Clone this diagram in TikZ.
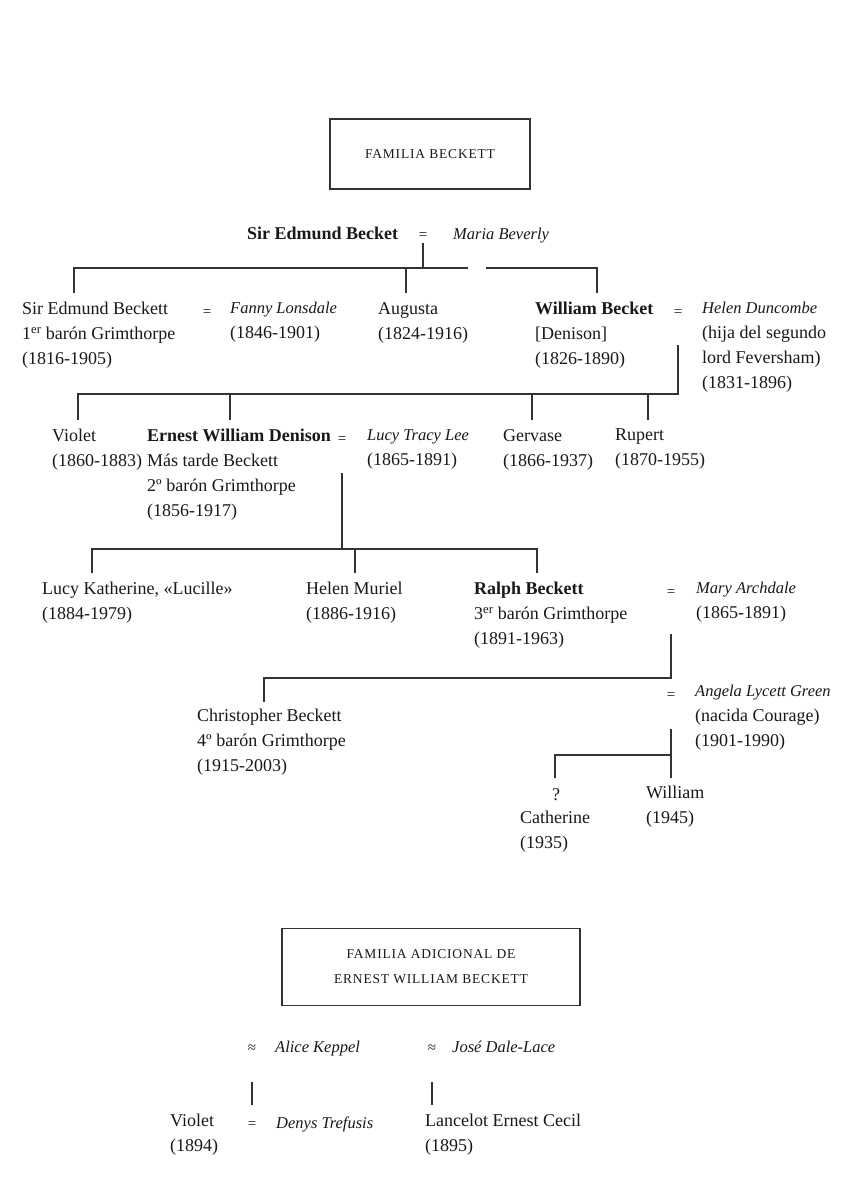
\documentclass[tikz,border=0pt]{standalone}
\usepackage{fontspec}
\setmainfont{Liberation Serif}
\newcommand{\spname}[1]{{\fontsize{16.5}{25}\selectfont\itshape #1}}

\begin{document}
\begin{tikzpicture}[x=1pt,y=-1pt,
  every node/.style={inner sep=0pt,text=black!90,font=\fontsize{18}{25}\selectfont},
  person/.style={anchor=north west,yshift=14pt,align=left,execute at begin node={\rule{0pt}{14pt}}},
  eq/.style={anchor=base,font=\fontsize{15}{25}\selectfont},
  titlebox/.style={draw=black!80,line width=1.2pt,align=center,
    font=\fontsize{13.5}{25}\selectfont\addfontfeature{LetterSpace=6}},
  kin/.style={draw=black!80,line width=1.1pt}]
\fill[white] (0,0) rectangle (842,1202);
\useasboundingbox (0,0) rectangle (842,1202);

\node[titlebox,minimum width=200pt,minimum height=70pt] (fam) at (430,154) {FAMILIA BECKETT};

\node[person,font=\fontsize{18}{25}\selectfont\bfseries] (edmundsr) at (247,239) {Sir Edmund Becket};
\node[eq] (eq0) at (423,239) {=};
\node[person] (maria) at (453,239) {\spname{Maria Beverly}};

\node[person] (edmund) at (22,316) {Sir Edmund Beckett\\1\textsuperscript{er} barón Grimthorpe\\(1816-1905)};
\node[eq] (eq1) at (207,316) {=};
\node[person] (fanny) at (230,316) {\spname{Fanny Lonsdale}\\(1846-1901)};
\node[person] (augusta) at (378,316) {Augusta\\(1824-1916)};
\node[person] (william) at (535,316) {\textbf{William Becket}\\{[Denison]}\\(1826-1890)};
\node[eq] (eq2) at (678,316) {=};
\node[person] (helen) at (702,316) {\spname{Helen Duncombe}\\(hija del segundo\\lord Feversham)\\(1831-1896)};

\node[person] (violet) at (52,443) {Violet\\(1860-1883)};
\node[person] (ernest) at (147,443) {\textbf{Ernest William Denison}\\Más tarde Beckett\\2º barón Grimthorpe\\(1856-1917)};
\node[eq] (eq3) at (342,443) {=};
\node[person] (lucy) at (367,443) {\spname{Lucy Tracy Lee}\\(1865-1891)};
\node[person] (gervase) at (503,443) {Gervase\\(1866-1937)};
\node[person] (rupert) at (615,443) {Rupert\\(1870-1955)};

\node[person] (lucille) at (42,596) {Lucy Katherine, «Lucille»\\(1884-1979)};
\node[person] (muriel) at (306,596) {Helen Muriel\\(1886-1916)};
\node[person] (ralph) at (474,596) {\textbf{Ralph Beckett}\\3\textsuperscript{er} barón Grimthorpe\\(1891-1963)};
\node[eq] (eq4) at (671,596) {=};
\node[person] (mary) at (696,596) {\spname{Mary Archdale}\\(1865-1891)};

\node[eq] (eq5) at (671,699) {=};
\node[person] (angela) at (695,699) {\spname{Angela Lycett Green}\\(nacida Courage)\\(1901-1990)};
\node[person] (christopher) at (197,723) {Christopher Beckett\\4º barón Grimthorpe\\(1915-2003)};

\node[eq,font=\fontsize{18}{25}\selectfont] (qmark) at (556,800) {?};
\node[person] (catherine) at (520,825) {Catherine\\(1935)};
\node[person] (williamb) at (646,800) {William\\(1945)};

\node[titlebox,minimum width=298pt,minimum height=77pt] (extra) at (431,967) {FAMILIA ADICIONAL DE\\ERNEST WILLIAM BECKETT};

\node[eq] (ap1) at (252,1052) {≈};
\node[person] (alice) at (275,1052) {\spname{Alice Keppel}};
\node[eq] (ap2) at (432,1052) {≈};
\node[person] (jose) at (452,1052) {\spname{José Dale-Lace}};
\node[person] (violetb) at (170,1128) {Violet\\(1894)};
\node[eq] (eq6) at (252,1128) {=};
\node[person] (denys) at (276,1128) {\spname{Denys Trefusis}};
\node[person] (lancelot) at (425,1128) {Lancelot Ernest Cecil\\(1895)};

\coordinate (bar0) at (0,268);
\coordinate (gapl) at (468,268);
\coordinate (gapr) at (486,268);
\coordinate (t-edmund) at (74,293);
\coordinate (t-augusta) at (406,293);
\coordinate (t-william) at (597,293);
\draw[kin] ([yshift=-4pt]eq0.base) -- (eq0.base |- bar0);
\draw[kin] (t-edmund) |- (gapl);
\draw[kin] (gapr) -| (t-william);
\draw[kin] (t-augusta) -- (t-augusta |- bar0);

\coordinate (bar1) at (0,394);
\coordinate (t-violet) at (78,420);
\coordinate (t-ernest) at (230,420);
\coordinate (t-gervase) at (532,420);
\coordinate (t-rupert) at (648,420);
\draw[kin] ([yshift=-29pt]eq2.base) -- (eq2.base |- bar1) -| (t-violet);
\foreach \c in {t-ernest,t-gervase,t-rupert}
  \draw[kin] (\c) -- (\c |- bar1);

\coordinate (bar2) at (0,549);
\coordinate (t-lucille) at (92,573);
\coordinate (t-muriel) at (355,573);
\coordinate (t-ralph) at (537,573);
\draw[kin] ([yshift=-30pt]eq3.base) -- (eq3.base |- bar2);
\draw[kin] (t-lucille) |- (t-ralph |- bar2) -- (t-ralph);
\draw[kin] (t-muriel) -- (t-muriel |- bar2);

\coordinate (bar3) at (0,678);
\coordinate (t-christopher) at (264,702);
\draw[kin] ([yshift=-38pt]eq4.base) -- (eq4.base |- bar3) -| (t-christopher);

\coordinate (bar4) at (0,755);
\coordinate (t-catherine) at (555,778);
\coordinate (t-williamb) at (671,778);
\draw[kin] ([yshift=-30pt]eq5.base) -- (t-williamb);
\draw[kin] (t-catherine) |- (t-williamb |- bar4);

\draw[kin] ([yshift=-30pt]ap1.base) -- ([yshift=23pt]eq6.base);
\draw[kin] ([yshift=-30pt]ap2.base) -- ([yshift=-53pt]ap2.base);
\end{tikzpicture}
\end{document}
